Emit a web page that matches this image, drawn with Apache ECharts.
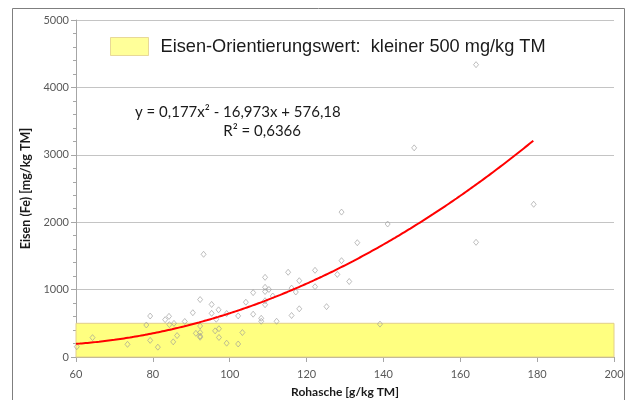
<!DOCTYPE html>
<html>
<head>
<meta charset="utf-8">
<script src="https://cdn.jsdelivr.net/npm/echarts@6/dist/echarts.min.js"></script>
<style>
  html, body { margin: 0; padding: 0; background: #fff; }
  #chart { width: 631px; height: 400px; }
</style>
</head>
<body>
<div id="chart"></div>
<script>
// Rohasche (g/kg TM) of each sample
const ashValues = [
  60.2, 64.3, 73.4, 78.3, 79.3, 79.3, 81.3, 83.2, 84.2, 84.3,
  85.5, 85.3, 86.3, 88.3, 90.4, 91.2, 92.3, 92.3, 92.3, 92.3,
  92.3, 93.2, 95.3, 95.3, 96.5, 96.2, 97.2, 97.2, 97.1, 99.2,
  99.2, 102.2, 102.2, 103.3, 104.2, 106.1, 106.1, 108.2, 108.2, 109.2,
  109.2, 110.2, 109.2, 109.2, 109.2, 111.2, 112.2, 115.2, 116.1, 117.2,
  118.1, 116.1, 118.1, 122.2, 122.2, 125.2, 128.0, 129.1, 129.1, 131.1,
  133.2, 139.1, 141.1, 148.0, 164.1, 164.1, 179.1
];
// Eisen (mg/kg TM) of each sample
const ironValues = [
  153, 287, 188, 475, 608, 247, 146, 554, 603, 480,
  499, 225, 318, 527, 657, 351, 363, 310, 293, 460,
  852, 1524, 780, 648, 560, 388, 420, 290, 700, 645,
  205, 193, 610, 363, 813, 955, 635, 574, 530, 1182,
  1034, 1002, 972, 835, 776, 905, 530, 1257, 1022, 964,
  1132, 616, 715, 1286, 1043, 747, 1225, 1429, 2150, 1120,
  1696, 488, 1973, 3103, 4337, 1702, 2266
];
// Polynomial trend: y = a*x^2 + b*x + c, drawn over the sampled ash range
const trendCoefficients = [0.177, -16.973, 576.18];
const trendRange = [60, 179];
// Orientation band for iron
const bandLimits = [0, 500];
const bandName = 'Eisen-Orientierungswert:  kleiner 500 mg/kg TM';
const equationText = 'y = 0,177x² - 16,973x + 576,18';
const r2Text = 'R² = 0,6366';

const samples = ashValues.map((x, i) => [x, ironValues[i]]);
const trend = [];
for (let x = trendRange[0]; x <= trendRange[1]; x += 1) {
  const [a, b, c] = trendCoefficients;
  trend.push([x, a * x * x + b * x + c]);
}

const tickFont = { fontFamily: 'Lato', fontSize: 11, color: '#595959' };

const chart = echarts.init(document.getElementById('chart'), null, { renderer: 'canvas' });
chart.setOption({
  animation: false,
  backgroundColor: '#fff',
  grid: { left: 76, right: 17, top: 20, bottom: 43, containLabel: false, outerBoundsMode: 'none' },
  legend: {
    left: 110, top: 37, padding: 0,
    itemWidth: 38, itemHeight: 18, itemGap: 10,
    icon: 'rect',
    data: [{ name: bandName, itemStyle: { color: '#ffff80', borderColor: '#e2cf8a', borderWidth: 1 } }],
    textStyle: { fontFamily: 'Liberation Sans', fontSize: 18.2, color: '#1a1a1a', padding: [0, 0, 0, 7] },
    selectedMode: false
  },
  xAxis: {
    type: 'value', min: 60, max: 200, interval: 20,
    name: 'Rohasche [g/kg TM]', nameLocation: 'middle', nameGap: 29,
    nameTextStyle: { fontFamily: 'Lato', fontSize: 12, fontWeight: 'bold', color: '#1a1a1a' },
    axisLine: { show: true, onZero: false, lineStyle: { color: '#a6a6a6', width: 1 } },
    axisTick: { show: true, length: 5, lineStyle: { color: '#a6a6a6' } },
    axisLabel: Object.assign({ margin: 12, formatter: v => String(v) }, tickFont),
    splitLine: { show: false }
  },
  yAxis: {
    type: 'value', min: 0, max: 5000, interval: 1000,
    name: 'Eisen (Fe) [mg/kg TM]', nameLocation: 'middle', nameGap: 39, nameRotate: 90,
    nameTextStyle: { fontFamily: 'Lato', fontSize: 12.5, fontWeight: 'bold', color: '#1a1a1a' },
    axisLine: { show: true, lineStyle: { color: '#a6a6a6', width: 1 } },
    axisTick: { show: true, length: 5, lineStyle: { color: '#a6a6a6' } },
    minorTick: { show: true, splitNumber: 5, length: 3, lineStyle: { color: '#a6a6a6' } },
    axisLabel: Object.assign({ margin: 7, formatter: v => String(v) }, tickFont),
    splitLine: { show: true, lineStyle: { color: '#c4c4c4', width: 1 } }
  },
  series: [
    {
      name: bandName,
      type: 'scatter',
      data: [],
      itemStyle: { color: '#ffff80' },
      z: 1,
      markArea: {
        silent: true,
        itemStyle: { color: '#ffff80', borderColor: '#e2cf8a', borderWidth: 1 },
        data: [[{ xAxis: 60, yAxis: bandLimits[0] }, { xAxis: 200, yAxis: bandLimits[1] }]]
      }
    },
    {
      name: 'Proben',
      type: 'scatter',
      data: samples,
      symbol: 'diamond',
      symbolSize: [5, 6],
      itemStyle: { color: 'rgba(0,0,0,0)', borderColor: '#999999', borderWidth: 0.8 },
      z: 3
    },
    {
      name: 'Trend',
      type: 'line',
      data: trend,
      showSymbol: false,
      smooth: true,
      lineStyle: { color: '#ff0000', width: 2 },
      z: 4
    }
  ],
  graphic: [
    {
      type: 'rect', silent: true, z: -1,
      shape: { x: 12.5, y: 8.5, width: 612, height: 420 },
      style: { fill: 'none', stroke: '#7f7f7f', lineWidth: 1 }
    },
    {
      type: 'text', left: 135, top: 105,
      style: { text: equationText, fontFamily: 'Lato', fontSize: 15, fill: '#1a1a1a' }
    },
    {
      type: 'text', top: 124, right: 631 - 301,
      style: { text: r2Text, fontFamily: 'Lato', fontSize: 15, fill: '#1a1a1a' }
    }
  ]
});
</script>
</body>
</html>
